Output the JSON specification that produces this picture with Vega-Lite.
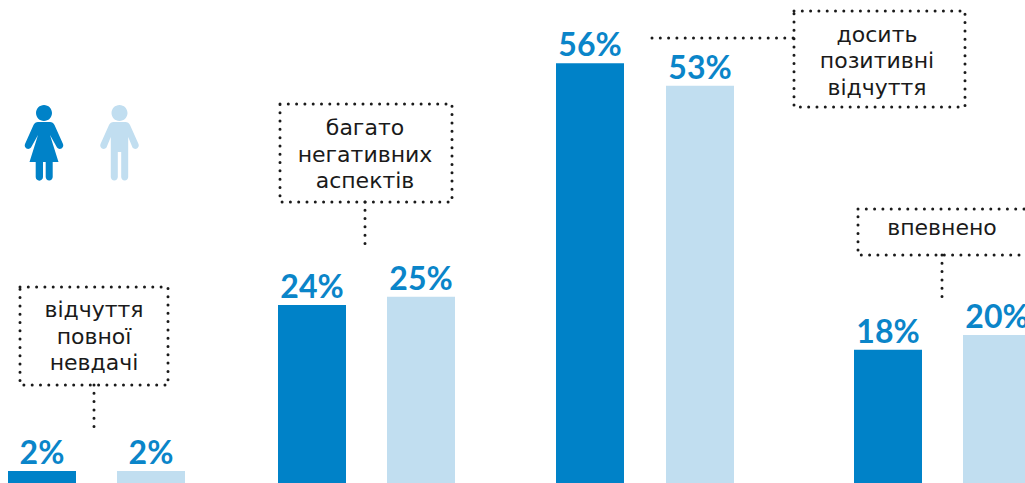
{
"$schema":"https://vega.github.io/schema/vega-lite/v6.json",
"width":1025,"height":483,"padding":0,"autosize":{"type":"none"},"background":"white",
"config":{"view":{"stroke":null},"axis":{"disable":true},"legend":{"disable":true}},
"datasets":{
"bars":[
{"group":"відчуття повної невдачі","gender":"жінки","value":1.6,"label":"2%"},
{"group":"відчуття повної невдачі","gender":"чоловіки","value":1.6,"label":"2%"},
{"group":"багато негативних аспектів","gender":"жінки","value":23.8,"label":"24%"},
{"group":"багато негативних аспектів","gender":"чоловіки","value":24.9,"label":"25%"},
{"group":"досить позитивні відчуття","gender":"жінки","value":56.1,"label":"56%"},
{"group":"досить позитивні відчуття","gender":"чоловіки","value":53.1,"label":"53%"},
{"group":"впевнено","gender":"жінки","value":17.8,"label":"18%"},
{"group":"впевнено","gender":"чоловіки","value":19.8,"label":"20%"}
],
"icons":[{"gender":"жінки"},{"gender":"чоловіки"}],
"callout":[{"note":"callout"}]
},
"layer":[
{"data":{"name":"icons"},"transform":[{"filter":"datum.gender === 'жінки'"}],
 "mark":{"type":"point","filled":true,"size":4,"opacity":1},
 "encoding":{
  "x":{"datum":44,"type":"quantitative","scale":{"domain":[0,1025],"nice":false,"zero":false,"padding":0}},
  "y":{"datum":45.45,"type":"quantitative","scale":{"domain":[0,64.57],"nice":false,"zero":true}},
  "color":{"field":"gender","type":"nominal","scale":{"domain":["жінки","чоловіки"],"range":["#0082C8","#C1DEF0"]}},
  "shape":{"field":"gender","type":"nominal","scale":{"domain":["жінки","чоловіки"],"range":[
   "M-8,-30 a8,8 0 1,0 16,0 a8,8 0 1,0 -16,0 Z M-6,-21 L6,-21 Q9,-21 10.5,-18 L19,1 A3.5,3.5 0 0 1 13,4.5 L6,-8 L14.5,19 L8.7,19 L8.7,34 A3.5,3.5 0 0 1 1.7,34 L1.7,19 L-1,19 L-1,34 A3.5,3.5 0 0 1 -8.3,34 L-8.3,19 L-14.5,19 L-6,-8 L-13,4.5 A3.5,3.5 0 0 1 -19,1 L-10.5,-18 Q-9,-21 -6,-21 Z",
   "M-8,-30 a8,8 0 1,0 16,0 a8,8 0 1,0 -16,0 Z M-6,-21 L6,-21 Q9,-21 10.5,-18 L19,1 A3.5,3.5 0 0 1 13,4.5 L8.7,-6 L8.7,34 A3.5,3.5 0 0 1 1.7,34 L1.7,9 L-1.7,9 L-1.7,34 A3.5,3.5 0 0 1 -8.7,34 L-8.7,-6 L-13,4.5 A3.5,3.5 0 0 1 -19,1 L-10.5,-18 Q-9,-21 -6,-21 Z"
  ]}}
 }},
{"data":{"name":"icons"},"transform":[{"filter":"datum.gender === 'чоловіки'"}],
 "mark":{"type":"point","filled":true,"size":4,"opacity":1},
 "encoding":{
  "x":{"datum":119.5,"type":"quantitative"},
  "y":{"datum":45.45,"type":"quantitative"},
  "color":{"field":"gender","type":"nominal"},
  "shape":{"field":"gender","type":"nominal"}
 }},
{"data":{"name":"bars"},"transform":[{"filter":"datum.group === 'відчуття повної невдачі' && datum.gender === 'жінки'"}],
 "encoding":{"x":{"datum":42,"type":"quantitative"},"y":{"field":"value","type":"quantitative"}},
 "layer":[
  {"mark":{"type":"bar","width":68},"encoding":{"color":{"field":"gender","type":"nominal"}}},
  {"mark":{"type":"text","font":"Lato","fontWeight":"bold","fontSize":32,"color":"#0A85C9","baseline":"alphabetic","dy":-7},"encoding":{"text":{"field":"label"}}}
 ]},
{"data":{"name":"bars"},"transform":[{"filter":"datum.group === 'відчуття повної невдачі' && datum.gender === 'чоловіки'"}],
 "encoding":{"x":{"datum":151,"type":"quantitative"},"y":{"field":"value","type":"quantitative"}},
 "layer":[
  {"mark":{"type":"bar","width":68},"encoding":{"color":{"field":"gender","type":"nominal"}}},
  {"mark":{"type":"text","font":"Lato","fontWeight":"bold","fontSize":32,"color":"#0A85C9","baseline":"alphabetic","dy":-7},"encoding":{"text":{"field":"label"}}}
 ]},
{"data":{"name":"bars"},"transform":[{"filter":"datum.group === 'багато негативних аспектів' && datum.gender === 'жінки'"}],
 "encoding":{"x":{"datum":312,"type":"quantitative"},"y":{"field":"value","type":"quantitative"}},
 "layer":[
  {"mark":{"type":"bar","width":68},"encoding":{"color":{"field":"gender","type":"nominal"}}},
  {"mark":{"type":"text","font":"Lato","fontWeight":"bold","fontSize":32,"color":"#0A85C9","baseline":"alphabetic","dy":-7},"encoding":{"text":{"field":"label"}}}
 ]},
{"data":{"name":"bars"},"transform":[{"filter":"datum.group === 'багато негативних аспектів' && datum.gender === 'чоловіки'"}],
 "encoding":{"x":{"datum":421,"type":"quantitative"},"y":{"field":"value","type":"quantitative"}},
 "layer":[
  {"mark":{"type":"bar","width":68},"encoding":{"color":{"field":"gender","type":"nominal"}}},
  {"mark":{"type":"text","font":"Lato","fontWeight":"bold","fontSize":32,"color":"#0A85C9","baseline":"alphabetic","dy":-7},"encoding":{"text":{"field":"label"}}}
 ]},
{"data":{"name":"bars"},"transform":[{"filter":"datum.group === 'досить позитивні відчуття' && datum.gender === 'жінки'"}],
 "encoding":{"x":{"datum":590,"type":"quantitative"},"y":{"field":"value","type":"quantitative"}},
 "layer":[
  {"mark":{"type":"bar","width":68},"encoding":{"color":{"field":"gender","type":"nominal"}}},
  {"mark":{"type":"text","font":"Lato","fontWeight":"bold","fontSize":32,"color":"#0A85C9","baseline":"alphabetic","dy":-7},"encoding":{"text":{"field":"label"}}}
 ]},
{"data":{"name":"bars"},"transform":[{"filter":"datum.group === 'досить позитивні відчуття' && datum.gender === 'чоловіки'"}],
 "encoding":{"x":{"datum":700,"type":"quantitative"},"y":{"field":"value","type":"quantitative"}},
 "layer":[
  {"mark":{"type":"bar","width":68},"encoding":{"color":{"field":"gender","type":"nominal"}}},
  {"mark":{"type":"text","font":"Lato","fontWeight":"bold","fontSize":32,"color":"#0A85C9","baseline":"alphabetic","dy":-7},"encoding":{"text":{"field":"label"}}}
 ]},
{"data":{"name":"bars"},"transform":[{"filter":"datum.group === 'впевнено' && datum.gender === 'жінки'"}],
 "encoding":{"x":{"datum":888,"type":"quantitative"},"y":{"field":"value","type":"quantitative"}},
 "layer":[
  {"mark":{"type":"bar","width":68},"encoding":{"color":{"field":"gender","type":"nominal"}}},
  {"mark":{"type":"text","font":"Lato","fontWeight":"bold","fontSize":32,"color":"#0A85C9","baseline":"alphabetic","dy":-7},"encoding":{"text":{"field":"label"}}}
 ]},
{"data":{"name":"bars"},"transform":[{"filter":"datum.group === 'впевнено' && datum.gender === 'чоловіки'"}],
 "encoding":{"x":{"datum":997,"type":"quantitative"},"y":{"field":"value","type":"quantitative"}},
 "layer":[
  {"mark":{"type":"bar","width":68},"encoding":{"color":{"field":"gender","type":"nominal"}}},
  {"mark":{"type":"text","font":"Lato","fontWeight":"bold","fontSize":32,"color":"#0A85C9","baseline":"alphabetic","dy":-7},"encoding":{"text":{"field":"label"}}}
 ]},
{"data":{"name":"callout"},"mark":{"type":"rect","fill":null,"stroke":"#1A1A1A","strokeWidth":3,"strokeDash":[0,8.3],"strokeCap":"round"},
 "encoding":{"x":{"datum":20,"type":"quantitative"},"x2":{"datum":168},"y":{"datum":26.2,"type":"quantitative"},"y2":{"datum":13.1}}},
{"data":{"name":"callout"},"mark":{"type":"rect","fill":null,"stroke":"#1A1A1A","strokeWidth":3,"strokeDash":[0,8.3],"strokeCap":"round"},
 "encoding":{"x":{"datum":280,"type":"quantitative"},"x2":{"datum":452},"y":{"datum":50.67,"type":"quantitative"},"y2":{"datum":37.57}}},
{"data":{"name":"callout"},"mark":{"type":"rect","fill":null,"stroke":"#1A1A1A","strokeWidth":3,"strokeDash":[0,8.3],"strokeCap":"round"},
 "encoding":{"x":{"datum":794,"type":"quantitative"},"x2":{"datum":965},"y":{"datum":63.1,"type":"quantitative"},"y2":{"datum":50.27}}},
{"data":{"name":"callout"},"mark":{"type":"rect","fill":null,"stroke":"#1A1A1A","strokeWidth":3,"strokeDash":[0,8.3],"strokeCap":"round"},
 "encoding":{"x":{"datum":858,"type":"quantitative"},"x2":{"datum":1040},"y":{"datum":36.63,"type":"quantitative"},"y2":{"datum":30.48}}},
{"data":{"name":"callout"},"mark":{"type":"rule","stroke":"#1A1A1A","strokeWidth":3,"strokeDash":[0,8.3],"strokeCap":"round"},
 "encoding":{"x":{"datum":94,"type":"quantitative"},"y":{"datum":13.1,"type":"quantitative"},"y2":{"datum":7.09}}},
{"data":{"name":"callout"},"mark":{"type":"rule","stroke":"#1A1A1A","strokeWidth":3,"strokeDash":[0,8.3],"strokeCap":"round"},
 "encoding":{"x":{"datum":365,"type":"quantitative"},"y":{"datum":37.57,"type":"quantitative"},"y2":{"datum":31.68}}},
{"data":{"name":"callout"},"mark":{"type":"rule","stroke":"#1A1A1A","strokeWidth":3,"strokeDash":[0,8.3],"strokeCap":"round"},
 "encoding":{"x":{"datum":652,"type":"quantitative"},"x2":{"datum":794},"y":{"datum":59.49,"type":"quantitative"}}},
{"data":{"name":"callout"},"mark":{"type":"rule","stroke":"#1A1A1A","strokeWidth":3,"strokeDash":[0,8.3],"strokeCap":"round"},
 "encoding":{"x":{"datum":942,"type":"quantitative"},"y":{"datum":30.48,"type":"quantitative"},"y2":{"datum":24.47}}},
{"data":{"values":[{"note":"відчуття\nповної\nневдачі"}]},"mark":{"type":"text","font":"DejaVu Sans","fontSize":22,"color":"#1A1A1A","lineBreak":"\n","lineHeight":26.5,"baseline":"middle","dy":-26},
 "encoding":{"x":{"datum":94,"type":"quantitative"},"y":{"datum":19.65,"type":"quantitative"},"text":{"field":"note"}}},
{"data":{"values":[{"note":"багато\nнегативних\nаспектів"}]},"mark":{"type":"text","font":"DejaVu Sans","fontSize":22,"color":"#1A1A1A","lineBreak":"\n","lineHeight":26.5,"baseline":"middle","dy":-25},
 "encoding":{"x":{"datum":365,"type":"quantitative"},"y":{"datum":44.05,"type":"quantitative"},"text":{"field":"note"}}},
{"data":{"values":[{"note":"досить\nпозитивні\nвідчуття"}]},"mark":{"type":"text","font":"DejaVu Sans","fontSize":22,"color":"#1A1A1A","lineBreak":"\n","lineHeight":26.5,"baseline":"middle","dy":-25},
 "encoding":{"x":{"datum":877,"type":"quantitative"},"y":{"datum":56.55,"type":"quantitative"},"text":{"field":"note"}}},
{"data":{"values":[{"note":"впевнено"}]},"mark":{"type":"text","font":"DejaVu Sans","fontSize":22,"color":"#1A1A1A","baseline":"middle","dy":1},
 "encoding":{"x":{"datum":942,"type":"quantitative"},"y":{"datum":34.22,"type":"quantitative"},"text":{"field":"note"}}}
]
}
